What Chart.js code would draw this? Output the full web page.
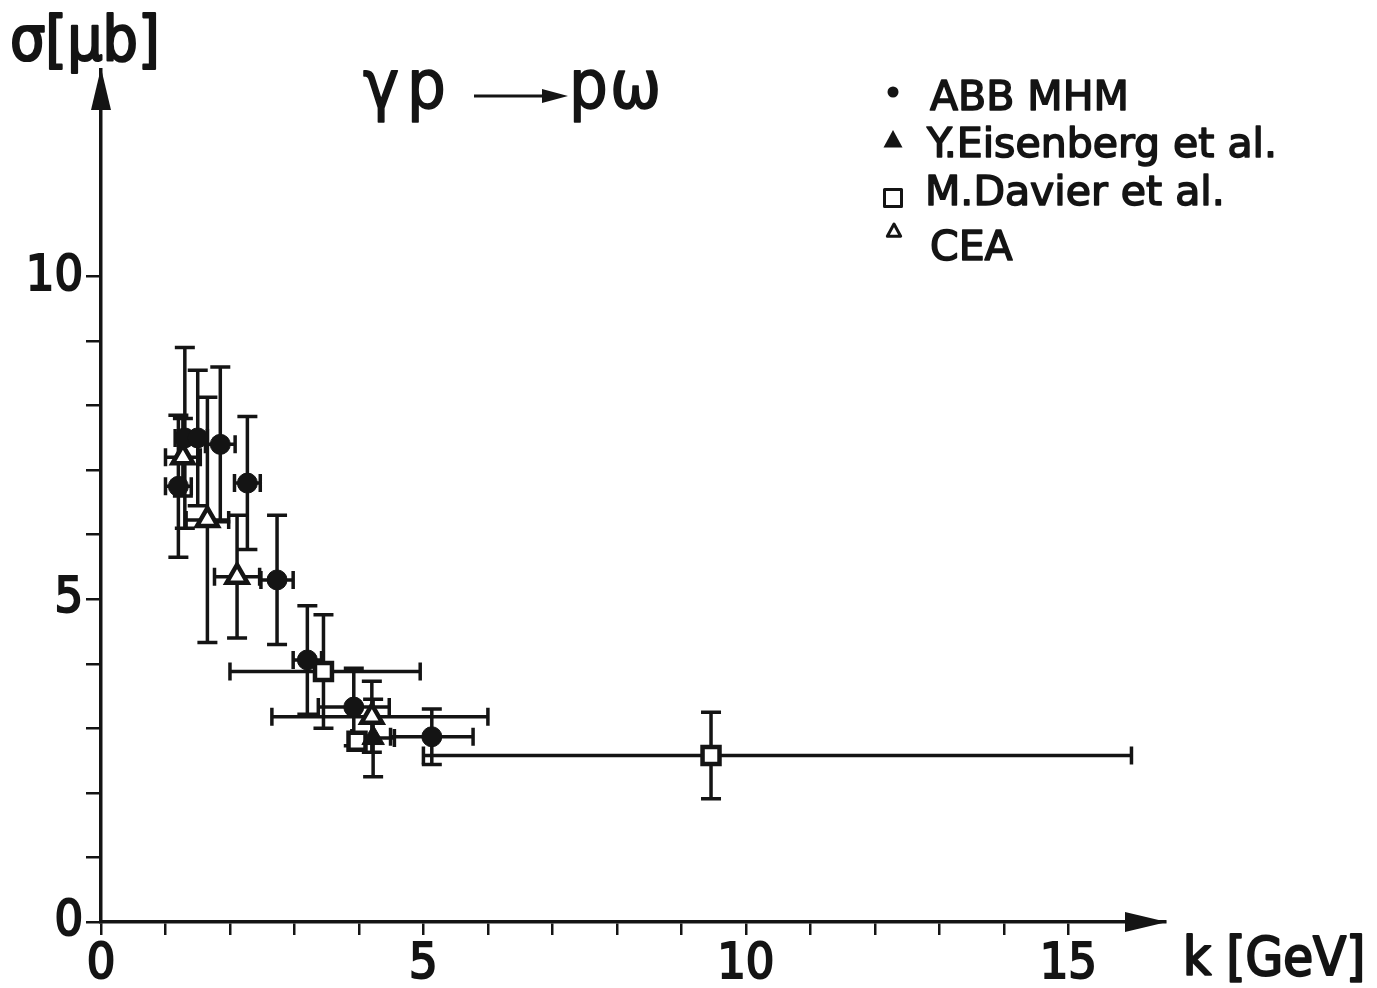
<!DOCTYPE html>
<html>
<head>
<meta charset="utf-8">
<script src="https://cdn.jsdelivr.net/npm/chart.js@4.4.1/dist/chart.umd.min.js"></script>
<style>
  html, body { margin: 0; padding: 0; background: #fff; }
</style>
</head>
<body>
<canvas id="chart" width="1377" height="988"></canvas>
<script>
// gamma p -> p omega, sigma [mub] vs k [GeV]
const abbK        = [1.2, 1.3, 1.5, 1.85, 2.27, 2.73, 3.2, 3.92, 5.13];
const abbSigma    = [6.75, 7.5, 7.5, 7.4, 6.8, 5.3, 4.06, 3.33, 2.87];
const abbKErr     = [0.2, 0.15, 0.15, 0.23, 0.2, 0.25, 0.22, 0.55, 0.64];
const abbSigmaErr = [1.1, 1.4, 1.05, 1.2, 1.03, 1.0, 0.84, 0.6, 0.43];

const eisK        = [4.22];
const eisSigma    = [2.85];
const eisKErr     = [0.33];
const eisSigmaErr = [0.6];

const davK        = [3.45, 3.97, 9.46];
const davSigma    = [3.88, 2.8, 2.58];
const davKErr     = [[1.45, 1.5], 0, [4.46, 6.52]];   // [minus, plus] where asymmetric
const davSigmaErr = [0.88, 0, 0.67];

const ceaK        = [1.27, 1.65, 2.11, 4.2];
const ceaSigma    = [7.2, 6.23, 5.35, 3.18];
const ceaKErr     = [0.27, 0.33, 0.35, [1.55, 1.8]];
const ceaSigmaErr = [0.6, 1.9, 0.95, 0.55];

const seriesNames = ['ABB MHM', 'Y.Eisenberg et al.', 'M.Davier et al.', 'CEA'];
const xTickLabels = [0, 5, 10, 15];
const yTickLabels = [0, 5, 10];

const INK = '#141414';
const condensed = "'DejaVu Sans Condensed', 'DejaVu Sans', sans-serif";
const plain = "'DejaVu Sans', sans-serif";

function pts(k, s, ke, se) {
    return k.map((v, i) => ({ x: v, y: s[i], xe: ke[i], ye: se[i] }));
}
function pair(e) {
    return Array.isArray(e) ? e : [e, e];
}

const errorBars = {
    id: 'errorBars',
    beforeDatasetsDraw(chart) {
        const { ctx, scales: { x, y } } = chart;
        ctx.save();
        ctx.strokeStyle = INK;
        ctx.lineWidth = 3.5;
        ctx.lineCap = 'butt';
        chart.data.datasets.forEach(ds => {
            ds.data.forEach(p => {
                const cx = x.getPixelForValue(p.x);
                const cy = y.getPixelForValue(p.y);
                const [xm, xp] = pair(p.xe);
                const [ym, yp] = pair(p.ye);
                ctx.beginPath();
                if (xm || xp) {
                    const l = x.getPixelForValue(p.x - xm);
                    const r = x.getPixelForValue(p.x + xp);
                    ctx.moveTo(l, cy); ctx.lineTo(r, cy);
                    ctx.moveTo(l, cy - 9); ctx.lineTo(l, cy + 9);
                    ctx.moveTo(r, cy - 9); ctx.lineTo(r, cy + 9);
                }
                if (ym || yp) {
                    const t = y.getPixelForValue(p.y + yp);
                    const b = y.getPixelForValue(p.y - ym);
                    ctx.moveTo(cx, t); ctx.lineTo(cx, b);
                    ctx.moveTo(cx - 10, t); ctx.lineTo(cx + 10, t);
                    ctx.moveTo(cx - 10, b); ctx.lineTo(cx + 10, b);
                }
                ctx.stroke();
            });
        });
        ctx.restore();
    }
};

function marker(ctx, style, filled, x, y, s) {
    ctx.beginPath();
    if (style === 'circle') {
        ctx.arc(x, y, s, 0, Math.PI * 2);
    } else if (style === 'triangle') {
        ctx.moveTo(x, y - s);
        ctx.lineTo(x + s * 0.95, y + s * 0.75);
        ctx.lineTo(x - s * 0.95, y + s * 0.75);
        ctx.closePath();
    } else {
        ctx.rect(x - s, y - s, 2 * s, 2 * s);
    }
    if (filled) { ctx.fillStyle = INK; ctx.fill(); }
    else { ctx.fillStyle = '#fff'; ctx.fill(); ctx.lineWidth = 3; ctx.strokeStyle = INK; ctx.stroke(); }
}

// thick-ish text: fill plus a thin outline
function inkText(ctx, s, x, y, w) {
    ctx.lineWidth = w;
    ctx.lineJoin = 'round';
    ctx.strokeStyle = INK;
    ctx.fillStyle = INK;
    ctx.fillText(s, x, y);
    ctx.strokeText(s, x, y);
}

const decorations = {
    id: 'decorations',
    afterDraw(chart) {
        const { ctx, chartArea: a } = chart;
        ctx.save();
        ctx.fillStyle = INK;
        ctx.strokeStyle = INK;

        // axis arrows
        ctx.beginPath();
        ctx.moveTo(a.left, a.top - 2);
        ctx.lineTo(a.left + 10, a.top + 40);
        ctx.lineTo(a.left - 10, a.top + 40);
        ctx.closePath();
        ctx.fill();
        ctx.beginPath();
        ctx.moveTo(a.right + 2, a.bottom);
        ctx.lineTo(a.right - 40, a.bottom - 10);
        ctx.lineTo(a.right - 40, a.bottom + 10);
        ctx.closePath();
        ctx.fill();

        // axis titles
        ctx.textBaseline = 'alphabetic';
        ctx.textAlign = 'left';
        ctx.font = '62px ' + condensed;
        inkText(ctx, 'σ[μb]', 10, 60, 2.2);
        ctx.font = '54px ' + condensed;
        inkText(ctx, 'k [GeV]', 1183, 975, 2.2);

        // reaction
        ctx.font = '68px ' + condensed;
        inkText(ctx, 'γ', 363, 108, 1.5);
        inkText(ctx, 'p', 407, 108, 1.5);
        inkText(ctx, 'p', 569, 108, 1.5);
        inkText(ctx, 'ω', 610, 108, 1.5);
        ctx.lineWidth = 3;
        ctx.beginPath();
        ctx.moveTo(474, 96); ctx.lineTo(548, 96);
        ctx.stroke();
        ctx.beginPath();
        ctx.moveTo(568, 96); ctx.lineTo(542, 89); ctx.lineTo(542, 103);
        ctx.closePath();
        ctx.fill();

        // legend
        const rows = [
            { style: 'circle', filled: true, mx: 893, my: 92, s: 5.5, tx: 930, ty: 110 },
            { style: 'triangle', filled: true, mx: 893, my: 140, s: 10, tx: 927, ty: 157 },
            { style: 'rect', filled: false, mx: 893, my: 198, s: 8.5, tx: 925, ty: 205 },
            { style: 'triangle', filled: false, mx: 894, my: 231, s: 7, tx: 930, ty: 260 }
        ];
        ctx.font = '41px ' + plain;
        rows.forEach((r, i) => {
            marker(ctx, r.style, r.filled, r.mx, r.my, r.s);
            inkText(ctx, seriesNames[i], r.tx, r.ty, 1.6);
        });
        ctx.restore();
    }
};

const axisFont = { family: condensed, size: 50 };

new Chart(document.getElementById('chart'), {
    type: 'scatter',
    data: {
        datasets: [
            {
                label: seriesNames[0],
                data: pts(abbK, abbSigma, abbKErr, abbSigmaErr),
                pointStyle: 'circle', pointRadius: 10,
                backgroundColor: INK, borderColor: INK, borderWidth: 1
            },
            {
                label: seriesNames[1],
                data: pts(eisK, eisSigma, eisKErr, eisSigmaErr),
                pointStyle: 'triangle', pointRadius: 13,
                backgroundColor: INK, borderColor: INK, borderWidth: 1
            },
            {
                label: seriesNames[2],
                data: pts(davK, davSigma, davKErr, davSigmaErr),
                pointStyle: 'rect', pointRadius: 12,
                backgroundColor: '#fff', borderColor: INK, borderWidth: 4.5
            },
            {
                label: seriesNames[3],
                data: pts(ceaK, ceaSigma, ceaKErr, ceaSigmaErr),
                pointStyle: 'triangle', pointRadius: 12,
                backgroundColor: '#fff', borderColor: INK, borderWidth: 4.5
            }
        ]
    },
    options: {
        responsive: false,
        animation: false,
        devicePixelRatio: 1,
        layout: { padding: { top: 70, right: 212, bottom: 0, left: 0 } },
        plugins: { legend: { display: false }, tooltip: { enabled: false } },
        scales: {
            x: {
                type: 'linear', min: 0, max: 16.5,
                afterFit: s => { s.height = 66; },
                border: { display: true, color: INK, width: 3.5 },
                grid: {
                    drawOnChartArea: false, drawTicks: true, tickLength: 13, lineWidth: 2.5,
                    color: c => (c.tick && c.tick.value <= 15 ? INK : 'rgba(0,0,0,0)')
                },
                ticks: {
                    stepSize: 1, autoSkip: false, maxRotation: 0, padding: 0,
                    color: INK, font: axisFont, textStrokeColor: INK, textStrokeWidth: 2,
                    callback: v => (xTickLabels.includes(v) ? String(v) : '')
                }
            },
            y: {
                type: 'linear', min: 0, max: 13.2,
                afterFit: s => { s.width = 101; },
                border: { display: true, color: INK, width: 3.5 },
                grid: {
                    drawOnChartArea: false, drawTicks: true, tickLength: 15, lineWidth: 2.5,
                    color: c => (c.tick && c.tick.value <= 10 ? INK : 'rgba(0,0,0,0)')
                },
                ticks: {
                    stepSize: 1, autoSkip: false, padding: 3,
                    color: INK, font: axisFont, textStrokeColor: INK, textStrokeWidth: 2,
                    callback: v => (yTickLabels.includes(v) ? String(v) : '')
                }
            }
        }
    },
    plugins: [errorBars, decorations]
});
</script>
</body>
</html>
